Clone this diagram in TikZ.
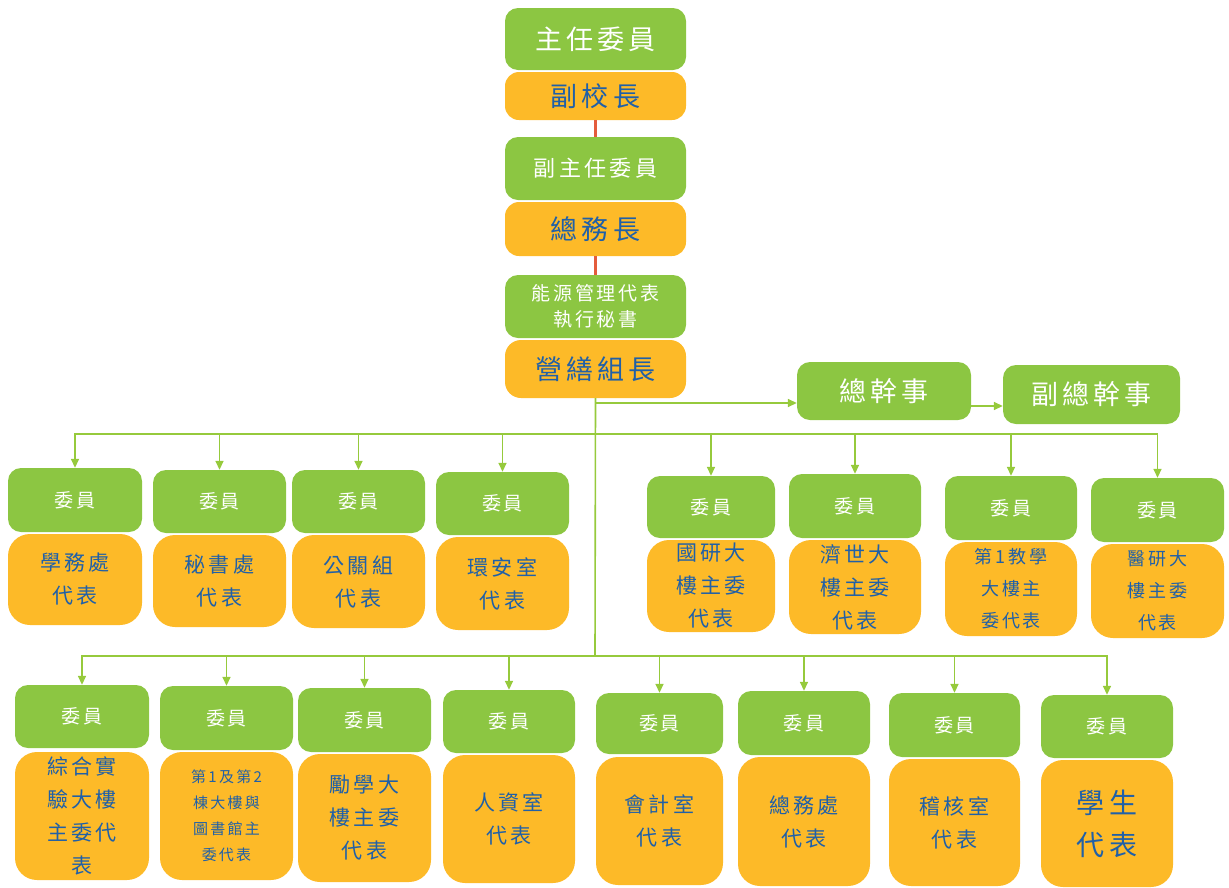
\documentclass[tikz,border=0pt]{standalone}
\usepackage{fontspec}
\setmainfont[LetterSpace=15]{Noto Sans CJK TC}
\usetikzlibrary{arrows.meta}
\definecolor{gfill}{RGB}{140,198,66}
\definecolor{ofill}{RGB}{253,186,40}
\definecolor{tblue}{RGB}{32,96,168}
\definecolor{lgreen}{RGB}{150,202,60}
\definecolor{lred}{RGB}{228,92,60}
\tikzset{
  gbox/.style={fill=gfill, rounded corners=13pt, text=white, inner sep=0pt, align=center},
  obox/.style={fill=ofill, rounded corners=22pt, text=tblue, inner sep=0pt, align=center},
  conn/.style={draw=lgreen, line width=1.6pt},
  arr/.style={conn, -{Triangle[length=9pt,width=8pt]}},
  redconn/.style={draw=lred, line width=3.2pt},
  fbig/.style={font=\fontsize{27}{32}\selectfont},
  fmid/.style={font=\fontsize{22}{26}\selectfont},
  fsm/.style={font=\fontsize{19}{26}\selectfont},
  fmem/.style={font=\fontsize{19}{22}\selectfont},
  frep/.style={font=\fontsize{21}{33}\selectfont},
  frepb/.style={font=\fontsize{18}{32}\selectfont},
  freps/.style={font=\fontsize{15}{26}\selectfont},
  fstu/.style={font=\fontsize{28}{42}\selectfont}
}
\begin{document}
\begin{tikzpicture}[x=1pt,y=-1pt]
\useasboundingbox (0,0) rectangle (1229,887);
% top column
\node[gbox,fbig,minimum width=181pt,minimum height=62pt] (zr) at (595.5,39) {主任委員};
\node[obox,fbig,rounded corners=14pt,minimum width=181pt,minimum height=48pt] (xz) at (595.5,96) {副校長};
\node[gbox,fmid,minimum width=181pt,minimum height=63pt] (fz) at (595.5,168.5) {副主任委員};
\node[obox,fbig,rounded corners=14pt,minimum width=181pt,minimum height=54pt] (zw) at (595.5,229) {總務長};
\node[gbox,fsm,minimum width=181pt,minimum height=63pt] (ny) at (595.5,306.5) {能源管理代表\\執行秘書};
\node[obox,fbig,rounded corners=16pt,minimum width=181pt,minimum height=58pt] (ys) at (595.5,369) {營繕組長};
\node[gbox,fbig,minimum width=174pt,minimum height=58pt] (zg) at (884,391) {總幹事};
\node[gbox,fbig,minimum width=177pt,minimum height=59pt] (fzg) at (1091.5,394.5) {副總幹事};
\draw[redconn] (xz.south) -- (fz.north);
\draw[redconn] (zw.south) -- (ny.north);
% row 1
\node[gbox,fmem,minimum width=134pt,minimum height=64pt] (g1) at (75,500) {委員};
\node[obox,frep,minimum width=134pt,minimum height=91pt] (o1) at (75,579.5) {學務處\\代表};
\node[gbox,fmem,minimum width=133pt,minimum height=63pt] (g2) at (219.5,501.5) {委員};
\node[obox,frep,minimum width=133pt,minimum height=92pt] (o2) at (219.5,581) {秘書處\\代表};
\node[gbox,fmem,minimum width=133pt,minimum height=63pt] (g3) at (358.5,501.5) {委員};
\node[obox,frep,minimum width=133pt,minimum height=93pt] (o3) at (358.5,581.5) {公關組\\代表};
\node[gbox,fmem,minimum width=133pt,minimum height=63pt] (g4) at (502.5,503.5) {委員};
\node[obox,frep,minimum width=133pt,minimum height=93pt] (o4) at (502.5,583.5) {環安室\\代表};
\node[gbox,fmem,minimum width=128pt,minimum height=62pt] (g5) at (711,507) {委員};
\node[obox,frep,minimum width=128pt,minimum height=92pt] (o5) at (711,586) {國研大\\樓主委\\代表};
\node[gbox,fmem,minimum width=132pt,minimum height=64pt] (g6) at (855,506) {委員};
\node[obox,frep,minimum width=132pt,minimum height=94pt] (o6) at (855,587) {濟世大\\樓主委\\代表};
\node[gbox,fmem,minimum width=132pt,minimum height=64pt] (g7) at (1011,508) {委員};
\node[obox,frepb,minimum width=132pt,minimum height=94pt] (o7) at (1011,589) {第1教學\\大樓主\\委代表};
\node[gbox,fmem,minimum width=133pt,minimum height=64pt] (g8) at (1157.5,510) {委員};
\node[obox,frepb,minimum width=133pt,minimum height=94pt] (o8) at (1157.5,591) {醫研大\\樓主委\\代表};
% row 2
\node[gbox,fmem,minimum width=134pt,minimum height=63pt] (h1) at (82,716.5) {委員};
\node[obox,frep,minimum width=134pt,minimum height=128pt] (p1) at (82,816) {綜合實\\驗大樓\\主委代\\表};
\node[gbox,fmem,minimum width=133pt,minimum height=64pt] (h2) at (226.5,718) {委員};
\node[obox,freps,minimum width=133pt,minimum height=128pt] (p2) at (226.5,816) {第1及第2\\棟大樓與\\圖書館主\\委代表};
\node[gbox,fmem,minimum width=133pt,minimum height=64pt] (h3) at (364.5,720) {委員};
\node[obox,frep,minimum width=133pt,minimum height=128pt] (p3) at (364.5,818) {勵學大\\樓主委\\代表};
\node[gbox,fmem,minimum width=132pt,minimum height=63pt] (h4) at (509,721.5) {委員};
\node[obox,frep,minimum width=132pt,minimum height=128pt] (p4) at (509,819) {人資室\\代表};
\node[gbox,fmem,minimum width=127pt,minimum height=61pt] (h5) at (659.5,723.5) {委員};
\node[obox,frep,minimum width=127pt,minimum height=128pt] (p5) at (659.5,821) {會計室\\代表};
\node[gbox,fmem,minimum width=132pt,minimum height=64pt] (h6) at (804,723) {委員};
\node[obox,frep,minimum width=132pt,minimum height=129pt] (p6) at (804,821.5) {總務處\\代表};
\node[gbox,fmem,minimum width=131pt,minimum height=64pt] (h7) at (954.5,725) {委員};
\node[obox,frep,minimum width=131pt,minimum height=127pt] (p7) at (954.5,822.5) {稽核室\\代表};
\node[gbox,fmem,minimum width=132pt,minimum height=63pt] (h8) at (1107,726.5) {委員};
\node[obox,fstu,minimum width=132pt,minimum height=127pt] (p8) at (1107,823.5) {學生\\代表};
% connectors
\coordinate (b0) at (595,403);
\coordinate (t1) at (595,434);
\coordinate (t2) at (595,656);
\draw[conn] (ys.south) -- (t2);
\draw[arr] (b0) -- (b0 -| zg.west);
\draw[arr] ([yshift=-15pt]zg.east) -- ([yshift=-11.5pt]fzg.west);
\foreach \n in {g1,g2,g3,g4,g5,g6,g7,g8} \draw[arr] (t1) -| (\n.north);
\foreach \n in {h1,h2,h3,h4,h5,h6,h7,h8} \draw[arr] (t2) -| (\n.north);
\end{tikzpicture}
\end{document}
